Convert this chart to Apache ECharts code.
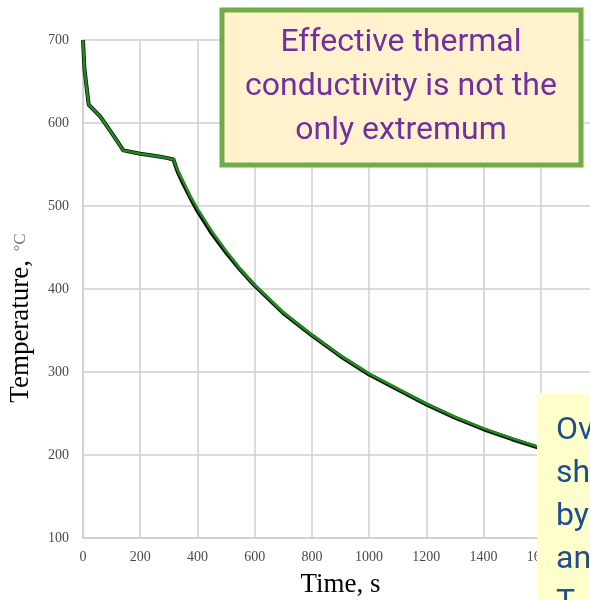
<!DOCTYPE html>
<html>
<head>
<meta charset="utf-8">
<script src="https://cdn.jsdelivr.net/npm/echarts@6/dist/echarts.min.js"></script>
<style>
  html, body { margin: 0; padding: 0; background: #fff; }
  #chart { width: 590px; height: 600px; }
</style>
</head>
<body>
<div id="chart"></div>
<script>
// time (s) and temperature (°C)
const timeSec = [0, 5, 20, 60, 100, 141, 200, 260, 292, 316, 330, 350, 375, 400, 450, 500, 550, 600, 700, 800, 900, 1000, 1100, 1200, 1300, 1400, 1500, 1600, 1650]
const tempGreen = [700, 665, 622, 608, 588, 567, 563, 560, 558, 556, 544, 530, 512, 497, 470, 446, 424, 405, 372, 345, 320, 298, 280, 262, 246, 232, 220, 209, 204]
const tempBlack = [700, 665, 622, 608, 588, 567, 563, 560, 558, 556, 542, 527, 510, 494, 467, 444, 423, 404, 371, 344, 319, 297, 279, 261, 245, 231, 219, 208, 203]

const xTicks = { min: 0, max: 1800, step: 200 }
const yTicks = { min: 100, max: 700, step: 100 }

const noteTop = ['Effective thermal', 'conductivity is not the', 'only extremum']
const noteBottom = ['Ov', 'sh', 'by', 'an', 'T']

const chart = echarts.init(document.getElementById('chart'))

const pair = (ys) => timeSec.map((t, i) => [t, ys[i]])

const tickLabel = { color: '#4a4a4a', fontFamily: 'Liberation Serif', fontSize: 14 }
const gridLine = { show: true, lineStyle: { color: '#cfcfcf', width: 1.5 } }

const noteText = (lines, x, y0, step, color, align) =>
  lines.map((s, i) => ({
    type: 'text',
    x: x,
    y: y0 + i * step,
    z: 101,
    style: {
      text: s,
      fill: color,
      font: '32px Roboto',
      align: align,
      verticalAlign: 'middle'
    }
  }))

chart.setOption({
  animation: false,
  grid: { left: 83, top: 40, width: 515, height: 498, outerBoundsMode: 'none', containLabel: false },
  xAxis: {
    type: 'value',
    min: xTicks.min,
    max: xTicks.max,
    interval: xTicks.step,
    name: 'Time, s',
    nameLocation: 'middle',
    nameGap: 33,
    nameTextStyle: { color: '#000', fontFamily: 'Liberation Serif', fontSize: 27 },
    axisLine: { show: true, lineStyle: { color: '#cfcfcf', width: 1.5 } },
    axisTick: { show: false },
    axisLabel: { ...tickLabel, margin: 12, formatter: (v) => String(v) },
    splitLine: gridLine
  },
  yAxis: {
    type: 'value',
    min: yTicks.min,
    max: yTicks.max,
    interval: yTicks.step,
    name: '{t|Temperature,}{u|  °C}',
    nameLocation: 'middle',
    nameGap: 49,
    nameRotate: 90,
    nameTextStyle: {
      padding: [0, 58, 0, 0],
      rich: {
        t: { color: '#000', fontFamily: 'Liberation Serif', fontSize: 27 },
        u: { color: '#777', fontFamily: 'Liberation Serif', fontSize: 17 }
      }
    },
    axisLine: { show: true, lineStyle: { color: '#cfcfcf', width: 1.5 } },
    axisTick: { show: false },
    axisLabel: { ...tickLabel, margin: 14 },
    splitLine: gridLine
  },
  series: [
    {
      type: 'line',
      data: pair(tempBlack),
      symbol: 'none',
      lineStyle: { color: '#111', width: 4 },
      z: 2
    },
    {
      type: 'line',
      data: pair(tempGreen),
      symbol: 'none',
      lineStyle: { color: '#1e8c1e', width: 2.5 },
      z: 3
    }
  ],
  graphic: [
    {
      type: 'rect',
      z: 100,
      shape: { x: 222, y: 10, width: 359, height: 155 },
      style: { fill: '#fff2cc', stroke: '#70ad47', lineWidth: 5 }
    },
    ...noteText(noteTop, 401, 43, 44, '#7030a0', 'center'),
    {
      type: 'rect',
      z: 100,
      shape: { x: 537, y: 393, width: 60, height: 210 },
      style: { fill: '#ffffcc' }
    },
    ...noteText(noteBottom, 556, 431, 43, '#1f4e8c', 'left')
  ]
})
</script>
</body>
</html>
